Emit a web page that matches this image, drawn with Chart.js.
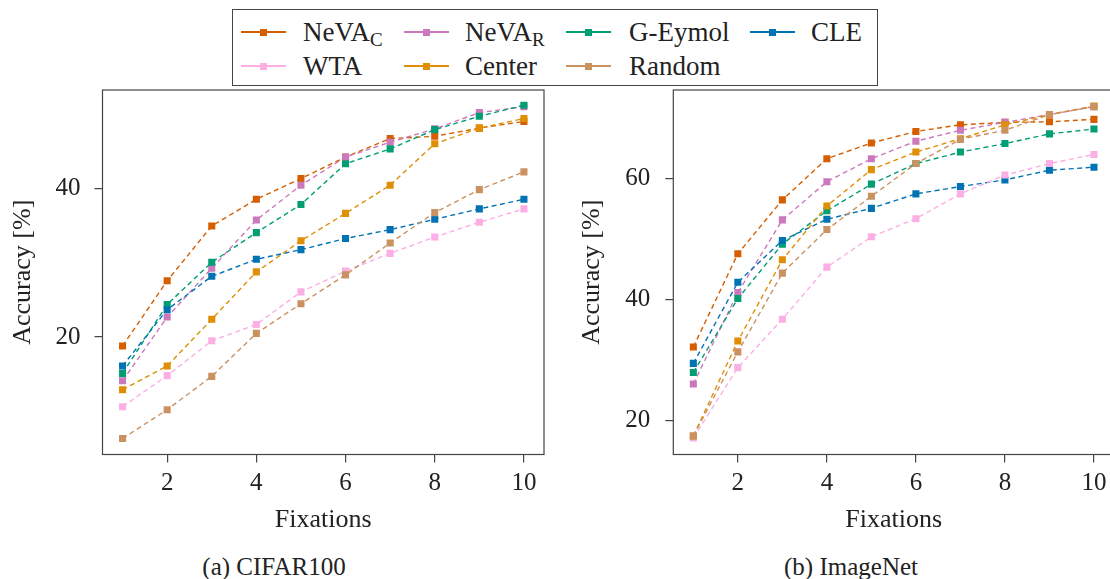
<!DOCTYPE html>
<html>
<head>
<meta charset="utf-8">
<script src="https://cdn.jsdelivr.net/npm/chart.js@4.4.1/dist/chart.umd.min.js"></script>
<style>
  html, body { margin: 0; padding: 0; background: #fff; }
  body { width: 1110px; height: 579px; overflow: hidden; position: relative;
         font-family: 'Liberation Serif', serif; color: #222; }
  .panel { position: absolute; top: 0; }
  .caption { position: absolute; top: 552px; width: 300px; text-align: center;
             font-size: 25px; line-height: 30px; }
  #legend { position: absolute; left: 232px; top: 9px; width: 644px; height: 75px;
            border: 1.3px solid #444; background: #fff; z-index: 2; }
  .sw { position: absolute; width: 45px; height: 0; }
  .sw .ln { position: absolute; left: 0; right: 0; top: -0.7px; height: 1.4px; }
  .sw .mk { position: absolute; left: 19px; top: -3.5px; width: 7px; height: 7px; }
  .lbl { position: absolute; font-size: 27px; line-height: 34px; white-space: nowrap; }
  .lbl sub { font-size: 19px; vertical-align: -5px; line-height: 0; }
</style>
</head>
<body>
<canvas id="cifar" class="panel" style="left:0px" width="555" height="540"></canvas>
<canvas id="imagenet" class="panel" style="left:570px" width="555" height="540"></canvas>
<div id="legend"></div>
<div class="caption" style="left:124px">(a) CIFAR100</div>
<div class="caption" style="left:701px">(b) ImageNet</div>

<script>
const fixations = [1, 2, 3, 4, 5, 6, 7, 8, 9, 10];
const xTicks = [2, 4, 6, 8, 10];
const cifarTicks = [20, 40];
const imagenetTicks = [20, 40, 60];

const seriesNames = ['NeVA', 'NeVA', 'G-Eymol', 'CLE', 'WTA', 'Center', 'Random'];
const seriesSubs = ['C', 'R', '', '', '', '', ''];
const seriesColors = ['#d55e00', '#cc78bc', '#029e73', '#0173b2', '#fbafe4', '#de8f05', '#ca9161'];

// CIFAR100 accuracy [%]
const cifarNevaC  = [18.8, 27.6, 35.0, 38.6, 41.4, 44.3, 46.8, 47.1, 48.2, 49.1];
const cifarNevaR  = [14.1, 22.7, 29.3, 35.8, 40.5, 44.3, 46.3, 48.1, 50.3, 51.1];
const cifarEymol  = [15.1, 24.4, 30.1, 34.1, 37.9, 43.4, 45.4, 48.0, 49.8, 51.3];
const cifarCle    = [16.1, 23.7, 28.2, 30.5, 31.8, 33.3, 34.5, 35.9, 37.3, 38.6];
const cifarWta    = [10.6, 14.8, 19.5, 21.7, 26.1, 28.9, 31.3, 33.5, 35.5, 37.3];
const cifarCenter = [12.9, 16.1, 22.4, 28.8, 33.0, 36.7, 40.5, 46.1, 48.2, 49.5];
const cifarRandom = [6.3, 10.2, 14.7, 20.5, 24.5, 28.4, 32.7, 36.8, 39.9, 42.3];

// ImageNet accuracy [%]
const inetNevaC  = [32.2, 47.6, 56.5, 63.3, 65.9, 67.8, 68.9, 69.3, 69.4, 69.8];
const inetNevaR  = [26.1, 41.2, 53.2, 59.5, 63.3, 66.2, 68.0, 69.3, 70.6, 71.9];
const inetEymol  = [28.0, 40.2, 49.2, 54.7, 59.1, 62.5, 64.4, 65.8, 67.4, 68.2];
const inetCle    = [29.5, 42.9, 49.8, 53.3, 55.1, 57.5, 58.7, 59.8, 61.4, 61.9];
const inetWta    = [17.2, 28.8, 36.8, 45.4, 50.4, 53.4, 57.5, 60.6, 62.5, 64.0];
const inetCenter = [17.5, 33.2, 46.6, 55.5, 61.5, 64.4, 66.6, 68.9, 70.6, 72.0];
const inetRandom = [17.5, 31.4, 44.4, 51.6, 57.1, 62.5, 66.5, 68.0, 70.6, 71.9];

const cifarSeries = [cifarNevaC, cifarNevaR, cifarEymol, cifarCle, cifarWta, cifarCenter, cifarRandom];
const inetSeries = [inetNevaC, inetNevaR, inetEymol, inetCle, inetWta, inetCenter, inetRandom];

Chart.defaults.font.family = "'Liberation Serif', serif";
Chart.defaults.color = '#222';

// pgfplots style box around the plot area
const frame = {
  id: 'frame',
  afterDatasetsDraw(chart) {
    const { ctx, chartArea: a } = chart;
    ctx.save();
    ctx.strokeStyle = '#444';
    ctx.lineWidth = 1.2;
    ctx.strokeRect(a.left, a.top, a.right - a.left, a.bottom - a.top);
    ctx.restore();
  }
};

function makeChart(id, series, yMin, yMax, yTicks, yWidth, yTitlePad, yTickPad) {
  const datasets = series.map((vals, i) => ({
    label: seriesNames[i] + seriesSubs[i],
    data: fixations.map((f, j) => ({ x: f, y: vals[j] })),
    borderColor: seriesColors[i],
    backgroundColor: seriesColors[i],
    borderWidth: 1.4,
    borderDash: [5, 3.5],
    pointStyle: 'rect',
    pointRadius: 5,
    pointBorderWidth: 0,
    order: -i
  }));

  return new Chart(document.getElementById(id), {
    type: 'line',
    data: { datasets },
    options: {
      responsive: false,
      animation: false,
      layout: { autoPadding: false, padding: { top: 90, right: 11, left: 0, bottom: 0 } },
      plugins: { legend: { display: false }, tooltip: { enabled: false } },
      scales: {
        x: {
          type: 'linear', min: 0.55, max: 10.45,
          afterBuildTicks: s => { s.ticks = xTicks.map(v => ({ value: v })); },
          afterFit: s => { s.height = 85.5; },
          grid: { drawOnChartArea: false, drawTicks: true, tickLength: 8, color: '#444', lineWidth: 1.2 },
          border: { display: false },
          ticks: { font: { size: 25 }, padding: 6, maxRotation: 0 },
          title: { display: true, text: 'Fixations', font: { size: 26 }, padding: { top: 0, bottom: 4 } }
        },
        y: {
          type: 'linear', min: yMin, max: yMax,
          afterBuildTicks: s => { s.ticks = yTicks.map(v => ({ value: v })); },
          afterFit: s => { s.width = yWidth; },
          grid: { drawOnChartArea: false, drawTicks: true, tickLength: 8, color: '#444', lineWidth: 1.2 },
          border: { display: false },
          ticks: { font: { size: 25 }, padding: yTickPad },
          title: { display: true, text: 'Accuracy [%]', font: { size: 26 }, padding: { top: yTitlePad, bottom: 0 } }
        }
      }
    },
    plugins: [frame]
  });
}

makeChart('cifar', cifarSeries, 4.15, 53.35, cifarTicks, 102.5, 8, 14);
makeChart('imagenet', inetSeries, 14.45, 74.65, imagenetTicks, 103.3, 7, 15);

// shared legend, 4 columns x 2 rows
const legend = document.getElementById('legend');
const colSwatch = [8, 171, 333, 517];
const colText = [70, 232, 396, 578];
const rowCenter = [22, 56];
seriesNames.forEach((name, i) => {
  const col = i < 4 ? i : i - 4;
  const row = i < 4 ? 0 : 1;
  const sw = document.createElement('div');
  sw.className = 'sw';
  sw.style.left = colSwatch[col] + 'px';
  sw.style.top = rowCenter[row] + 'px';
  sw.innerHTML = `<div class="ln" style="background:${seriesColors[i]}"></div>` +
                 `<div class="mk" style="background:${seriesColors[i]}"></div>`;
  legend.appendChild(sw);
  const lbl = document.createElement('div');
  lbl.className = 'lbl';
  lbl.style.left = colText[col] + 'px';
  lbl.style.top = (rowCenter[row] - 17) + 'px';
  lbl.innerHTML = name + (seriesSubs[i] ? `<sub>${seriesSubs[i]}</sub>` : '');
  legend.appendChild(lbl);
});
</script>
</body>
</html>
